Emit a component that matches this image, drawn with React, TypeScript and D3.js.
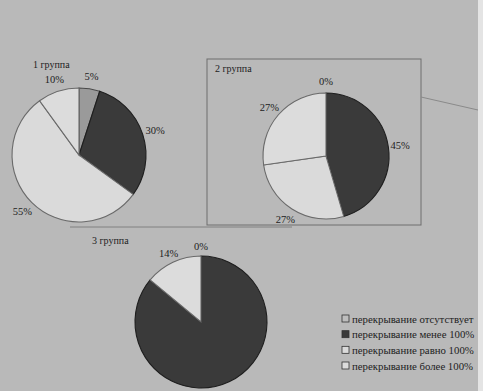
import React from "react";
import * as d3 from "d3";

const categories = [
  "перекрывание отсутствует",
  "перекрывание менее 100%",
  "перекрывание равно 100%",
  "перекрывание более 100%",
];
const groupNames = ["1 группа", "2 группа", "3 группа"];
const group1 = [5, 30, 55, 10];
const group2 = [0, 45, 27, 27];
const group3 = [0, 86, 0, 14];
const group1Labels = ["5%", "30%", "55%", "10%"];
const group2Labels = ["0%", "45%", "27%", "27%"];
const group3Labels = ["0%", "", "", "14%"];

const W = 483;
const H = 391;
const fills = ["#9a9a9a", "#3a3a3a", "#dadada", "#dcdcdc"];
const strokes = ["#4a4a4a", "#1e1e1e", "#6a6a6a", "#6a6a6a"];
const font = "'Liberation Serif', 'DejaVu Serif', serif";

type PieProps = {
  values: number[];
  labels: string[];
  cx: number;
  cy: number;
  r: number;
  labelR: number;
};

function Pie({ values, labels, cx, cy, r, labelR }: PieProps) {
  const pie = d3.pie<number>().sort(null).value((d) => d);
  const arcs = pie(values);
  const arc = d3.arc<d3.PieArcDatum<number>>().innerRadius(0).outerRadius(r);
  const lab = d3.arc<d3.PieArcDatum<number>>().innerRadius(labelR).outerRadius(labelR);
  return (
    <g transform={`translate(${cx},${cy})`}>
      {arcs.map((a, i) =>
        a.endAngle - a.startAngle > 0 ? (
          <path key={i} d={arc(a) || ""} fill={fills[i]} stroke={strokes[i]} strokeWidth={1.1} />
        ) : null
      )}
      {arcs.map((a, i) => {
        if (!labels[i]) return null;
        const [x, y] = lab.centroid(a);
        return (
          <text key={"l" + i} x={x} y={y} dy="0.35em" textAnchor="middle" fontSize={10.5} fill="#222" fontFamily={font}>
            {labels[i]}
          </text>
        );
      })}
    </g>
  );
}

export default function App() {
  const legendY = d3.scalePoint<string>().domain(categories).range([319, 366]);
  return (
    <svg width={W} height={H} style={{ position: "absolute", left: 0, top: 0 }}>
      <rect x={0} y={0} width={W} height={H} fill="#b9b9b9" />
      <rect x={478} y={0} width={5} height={H} fill="#e4e4e4" />
      {/* group 2 frame */}
      <rect x={207} y={59} width={214} height={166} fill="none" stroke="#6e6e6e" strokeWidth={1} />
      <line x1={421} y1={97} x2={478} y2={110} stroke="#8a8a8a" strokeWidth={1} />
      <line x1={70} y1={227} x2={292} y2={227} stroke="#808080" strokeWidth={1} />

      <Pie values={group1} labels={group1Labels} cx={79} cy={155} r={67} labelR={80} />
      <Pie values={group2} labels={group2Labels} cx={326} cy={156} r={63} labelR={75} />
      <Pie values={group3} labels={group3Labels} cx={201} cy={322} r={66} labelR={76} />

      <text x={33} y={68} fontSize={10} fontFamily={font} fill="#222">{groupNames[0]}</text>
      <text x={215} y={72} fontSize={10} fontFamily={font} fill="#222">{groupNames[1]}</text>
      <text x={92} y={244} fontSize={10} fontFamily={font} fill="#222">{groupNames[2]}</text>

      {categories.map((c, i) => {
        const y = legendY(c) || 0;
        return (
          <g key={c}>
            <rect x={342} y={y - 4} width={7} height={7} fill={i === 0 ? "#bdbdbd" : fills[i]} stroke="#333" strokeWidth={0.8} />
            <text x={352} y={y} dy="0.33em" fontSize={10.8} fontFamily={font} fill="#222">{c}</text>
          </g>
        );
      })}
    </svg>
  );
}
